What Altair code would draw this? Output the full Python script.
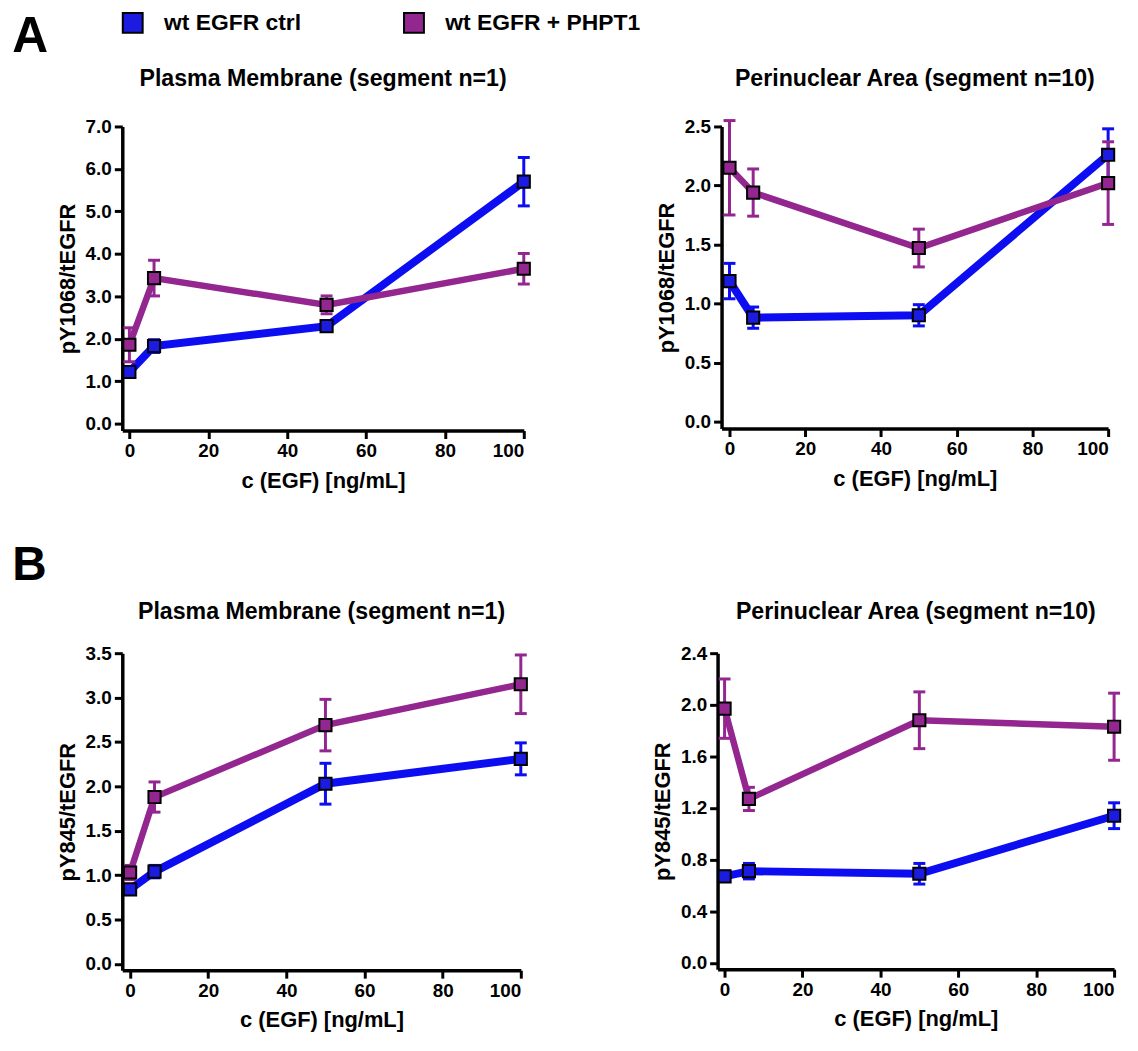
import altair as alt
import pandas as pd

# ---------------- data ----------------
x_vals = [0, 6.25, 50, 100]
series = ["wt EGFR ctrl", "wt EGFR + PHPT1"]
series_id = ["ctrl", "phpt1"]
line_colors = ["#0d0df2", "#93268f"]
fill_colors = ["#1c1ce0", "#93268f"]

# Panel A left: pY1068/tEGFR, Plasma Membrane
a1_ctrl = [1.22, 1.83, 2.30, 5.70]
a1_ctrl_err = [0.10, 0.15, 0.12, 0.57]
a1_php = [1.86, 3.43, 2.80, 3.65]
a1_php_err = [0.40, 0.42, 0.21, 0.36]

# Panel A right: pY1068/tEGFR, Perinuclear Area
a2_ctrl = [1.19, 0.88, 0.90, 2.26]
a2_ctrl_err = [0.15, 0.09, 0.09, 0.22]
a2_php = [2.15, 1.94, 1.47, 2.02]
a2_php_err = [0.40, 0.20, 0.16, 0.35]

# Panel B left: pY845/tEGFR, Plasma Membrane
b1_ctrl = [0.84, 1.04, 2.03, 2.31]
b1_ctrl_err = [0.05, 0.07, 0.23, 0.18]
b1_php = [1.03, 1.88, 2.69, 3.15]
b1_php_err = [0.08, 0.17, 0.29, 0.33]

# Panel B right: pY845/tEGFR, Perinuclear Area
b2_ctrl = [0.67, 0.71, 0.69, 1.14]
b2_ctrl_err = [0.04, 0.06, 0.08, 0.10]
b2_php = [1.97, 1.27, 1.88, 1.83]
b2_php_err = [0.23, 0.09, 0.22, 0.26]

x_ticks = [0, 20, 40, 60, 80, 100]
FONT = "Liberation Sans"


def make_df(ctrl, ctrl_err, php, php_err):
    rows = []
    for i, (m, e) in enumerate(((ctrl, ctrl_err), (php, php_err))):
        for xv, mv, ev in zip(x_vals, m, e):
            rows.append({"x": xv, "y": mv, "lo": mv - ev, "hi": mv + ev,
                         "series": series[i], "sid": series_id[i]})
    return pd.DataFrame(rows)


legend_def = alt.Legend(
    orient="none", legendX=107, legendY=-116, direction="horizontal", title=None,
    symbolType="square", symbolSize=400, symbolStrokeColor="black",
    symbolStrokeWidth=2, symbolOpacity=1, labelFont=FONT, labelFontSize=23,
    labelFontWeight="bold", labelColor="black", columnPadding=98, labelOffset=20,
    labelLimit=400, padding=0,
)


def panel(df, title, ytitle, ydom, yvals, xdom, w, h, toff):
    base = alt.Chart(df)
    xs = alt.Scale(domain=xdom, nice=False, zero=False)
    ys = alt.Scale(domain=ydom, nice=False, zero=False)
    xax = alt.Axis(values=x_ticks, title="c (EGF) [ng/mL]", format="d")
    yax = alt.Axis(values=yvals, format=".1f", title=ytitle)
    col = alt.Color("sid:N", scale=alt.Scale(domain=series_id, range=line_colors), legend=None)

    line = base.mark_line().encode(
        x=alt.X("x:Q", scale=xs, axis=xax),
        y=alt.Y("y:Q", scale=ys, axis=yax),
        color=col,
        strokeWidth=alt.StrokeWidth("sid:N", scale=alt.Scale(domain=series_id, range=[8, 6.5]), legend=None),
        detail="sid:N",
    )
    stem = base.mark_rule(strokeWidth=3).encode(
        x=alt.X("x:Q", scale=xs, axis=xax),
        y=alt.Y("lo:Q", scale=ys, axis=yax),
        y2="hi:Q",
        color=col,
    )
    cap_lo = base.mark_tick(orient="horizontal", size=12, thickness=3, opacity=1).encode(
        x=alt.X("x:Q", scale=xs, axis=xax),
        y=alt.Y("lo:Q", scale=ys, axis=yax),
        color=col,
    )
    cap_hi = base.mark_tick(orient="horizontal", size=12, thickness=3, opacity=1).encode(
        x=alt.X("x:Q", scale=xs, axis=xax),
        y=alt.Y("hi:Q", scale=ys, axis=yax),
        color=col,
    )
    pts = base.mark_point(shape="square", filled=True, size=150, stroke="black",
                          strokeWidth=2, opacity=1).encode(
        x=alt.X("x:Q", scale=xs, axis=xax),
        y=alt.Y("y:Q", scale=ys, axis=yax),
        fill=alt.Fill("series:N", scale=alt.Scale(domain=series, range=fill_colors),
                      legend=legend_def),
    )
    return alt.layer(line, stem, cap_lo, cap_hi, pts).properties(
        width=w, height=h,
        title=alt.Title(title, font=FONT, fontSize=23.3, fontWeight="bold",
                        color="black", frame="group", anchor="middle", offset=toff),
    )


def spacer():
    return alt.Chart(pd.DataFrame({"v": [0]})).mark_point(opacity=0).encode(
        x=alt.value(0), y=alt.value(0)
    ).properties(width=1, height=1)


pA1 = panel(make_df(a1_ctrl, a1_ctrl_err, a1_php, a1_php_err),
            "Plasma Membrane (segment n=1)", "pY1068/tEGFR",
            [-0.16, 7.0], [0, 1, 2, 3, 4, 5, 6, 7], [-1.8, 100], 404, 306, 26)
pA2 = panel(make_df(a2_ctrl, a2_ctrl_err, a2_php, a2_php_err),
            "Perinuclear Area (segment n=10)", "pY1068/tEGFR",
            [-0.06, 2.5], [0, 0.5, 1.0, 1.5, 2.0, 2.5], [-2.1, 100], 389, 304, 26)
pB1 = panel(make_df(b1_ctrl, b1_ctrl_err, b1_php, b1_php_err),
            "Plasma Membrane (segment n=1)", "pY845/tEGFR",
            [-0.07, 3.5], [0, 0.5, 1.0, 1.5, 2.0, 2.5, 3.0, 3.5], [-2.0, 100], 401, 319, 20)
pB2 = panel(make_df(b2_ctrl, b2_ctrl_err, b2_php, b2_php_err),
            "Perinuclear Area (segment n=10)", "pY845/tEGFR",
            [-0.05, 2.4], [0, 0.4, 0.8, 1.2, 1.6, 2.0, 2.4], [-1.8, 100], 399, 318, 20)

rowA = alt.hconcat(spacer(), alt.hconcat(pA1, pA2, spacing=116), spacing=38).properties(
    title=alt.Title("A", font=FONT, fontSize=50, fontWeight="bold", color="black",
                    anchor="start", offset=6)
)
rowB = alt.hconcat(spacer(), alt.hconcat(pB1, pB2, spacing=115), spacing=38).properties(
    title=alt.Title("B", font=FONT, fontSize=48, fontWeight="bold", color="black",
                    anchor="start", offset=10)
)

chart = alt.vconcat(rowA, rowB, spacing=51).properties(
    padding={"left": 4, "top": 0, "right": 0, "bottom": 2}
).configure_view(stroke=None).configure_axis(
    grid=False, domainColor="black", domainWidth=3.5, tickColor="black",
    tickWidth=3, tickSize=8, labelFont=FONT, labelFontSize=19,
    labelFontWeight="bold", labelColor="black", labelPadding=3,
    titleFont=FONT, titleFontSize=22, titleFontWeight="bold", titleColor="black",
).configure_axisX(titlePadding=10).configure_axisY(titlePadding=6)

chart.save("out.html", embed_options={"renderer": "svg", "actions": False})
